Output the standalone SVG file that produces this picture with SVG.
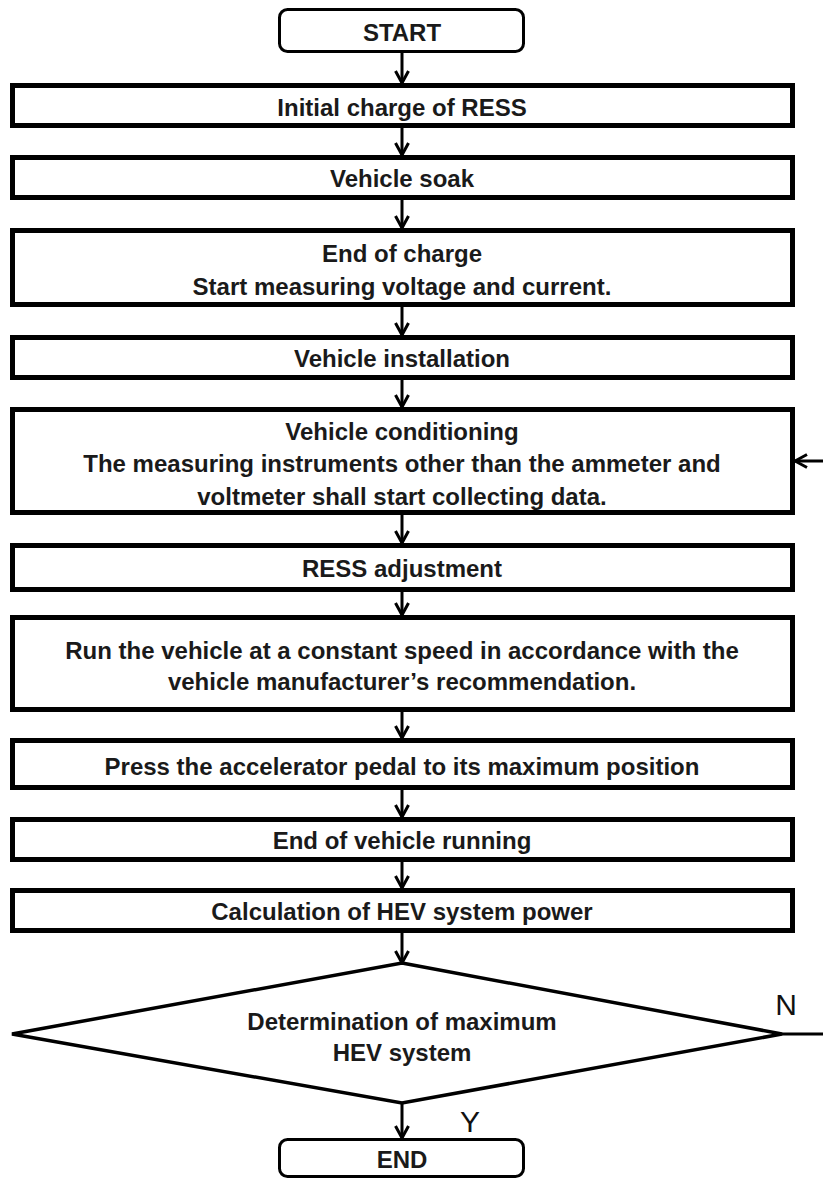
<svg xmlns="http://www.w3.org/2000/svg" width="823" height="1180" viewBox="0 0 823 1180">
<style>
.box{fill:#fff;stroke:#000;stroke-width:5}
.term{fill:#fff;stroke:#000;stroke-width:3}
.dec{fill:#fff;stroke:#000;stroke-width:3.5;stroke-linejoin:miter}
.t{font-family:"Liberation Sans",Arial,sans-serif;font-size:24px;font-weight:bold;fill:#1a1a1a;text-anchor:middle}
.yn{font-family:"Liberation Sans",Arial,sans-serif;font-size:30px;fill:#111;text-anchor:middle}
.c{stroke:#000;stroke-width:3;fill:none}
</style>
<defs>
<marker id="ah" markerUnits="userSpaceOnUse" markerWidth="16" markerHeight="16" viewBox="0 0 16 16" refX="14" refY="8" orient="auto">
<path d="M2,1.5 L14,8 L2,14.5" fill="none" stroke="#000" stroke-width="3"/>
</marker>
</defs>
<rect width="823" height="1180" fill="#fff"/>
<g id="connectors">
<line class="c" x1="402" y1="53" x2="402" y2="83" marker-end="url(#ah)"/>
<line class="c" x1="402" y1="128" x2="402" y2="155" marker-end="url(#ah)"/>
<line class="c" x1="402" y1="200" x2="402" y2="228" marker-end="url(#ah)"/>
<line class="c" x1="402" y1="307" x2="402" y2="335" marker-end="url(#ah)"/>
<line class="c" x1="402" y1="380" x2="402" y2="407" marker-end="url(#ah)"/>
<line class="c" x1="402" y1="515" x2="402" y2="543" marker-end="url(#ah)"/>
<line class="c" x1="402" y1="592" x2="402" y2="615" marker-end="url(#ah)"/>
<line class="c" x1="402" y1="712" x2="402" y2="738" marker-end="url(#ah)"/>
<line class="c" x1="402" y1="790" x2="402" y2="817" marker-end="url(#ah)"/>
<line class="c" x1="402" y1="862" x2="402" y2="888" marker-end="url(#ah)"/>
<line class="c" x1="402" y1="933" x2="402" y2="963" marker-end="url(#ah)"/>
<line class="c" x1="402" y1="1103" x2="402" y2="1138" marker-end="url(#ah)"/>
<line class="c" x1="823" y1="461" x2="795" y2="461" marker-end="url(#ah)"/>
<line class="c" x1="782" y1="1034" x2="823" y2="1034"/>
<text class="yn" x="786" y="1015">N</text>
<text class="yn" x="470" y="1132">Y</text>
</g>
<g id="start">
<rect class="term" x="279.5" y="9.5" width="244" height="42" rx="8"/>
<text class="t" x="402" y="41">START</text>
</g>
<g id="n1">
<rect class="box" x="12.5" y="85.5" width="780" height="40"/>
<text class="t" x="402" y="116">Initial charge of RESS</text>
</g>
<g id="n2">
<rect class="box" x="12.5" y="157.5" width="780" height="40"/>
<text class="t" x="402" y="187">Vehicle soak</text>
</g>
<g id="n3">
<rect class="box" x="12.5" y="230.5" width="780" height="74"/>
<text class="t" x="402" y="262">End of charge</text>
<text class="t" x="402" y="295">Start measuring voltage and current.</text>
</g>
<g id="n4">
<rect class="box" x="12.5" y="337.5" width="780" height="40"/>
<text class="t" x="402" y="367">Vehicle installation</text>
</g>
<g id="n5">
<rect class="box" x="12.5" y="409.5" width="780" height="103"/>
<text class="t" x="402" y="440">Vehicle conditioning</text>
<text class="t" x="402" y="472">The measuring instruments other than the ammeter and</text>
<text class="t" x="402" y="505">voltmeter shall start collecting data.</text>
</g>
<g id="n6">
<rect class="box" x="12.5" y="545.5" width="780" height="44"/>
<text class="t" x="402" y="577">RESS adjustment</text>
</g>
<g id="n7">
<rect class="box" x="12.5" y="617.5" width="780" height="92"/>
<text class="t" x="402" y="659">Run the vehicle at a constant speed in accordance with the</text>
<text class="t" x="402" y="690">vehicle manufacturer’s recommendation.</text>
</g>
<g id="n8">
<rect class="box" x="12.5" y="740.5" width="780" height="47"/>
<text class="t" x="402" y="775">Press the accelerator pedal to its maximum position</text>
</g>
<g id="n9">
<rect class="box" x="12.5" y="819.5" width="780" height="40"/>
<text class="t" x="402" y="849">End of vehicle running</text>
</g>
<g id="n10">
<rect class="box" x="12.5" y="890.5" width="780" height="40"/>
<text class="t" x="402" y="920">Calculation of HEV system power</text>
</g>
<g id="decision">
<polygon class="dec" points="402,963 782,1034 402,1103 12,1034"/>
<text class="t" x="402" y="1030">Determination of maximum</text>
<text class="t" x="402" y="1061">HEV system</text>
</g>
<g id="end">
<rect class="term" x="279.5" y="1139.5" width="244" height="37" rx="8"/>
<text class="t" x="402" y="1168">END</text>
</g>
</svg>
